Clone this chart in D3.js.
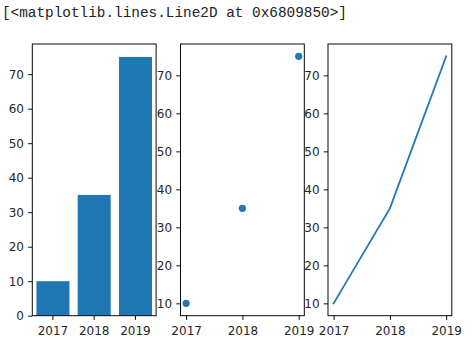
<!DOCTYPE html>
<html>
<head>
<meta charset="utf-8">
<script src="https://cdn.jsdelivr.net/npm/d3@7"></script>
<style>
  html, body { margin: 0; padding: 0; background: #fff; }
  svg { display: block; }
</style>
</head>
<body>
<svg id="chart" width="476" height="343"></svg>
<script>
// Data
const years = ["2017", "2018", "2019"];
const yearNums = [2017, 2018, 2019];
const values = [10, 35, 75];
const barTicks = [0, 10, 20, 30, 40, 50, 60, 70];
const otherTicks = [10, 20, 30, 40, 50, 60, 70];
const outputLine = "[<matplotlib.lines.Line2D at 0x6809850>]";

const svg = d3.select("#chart");
const blue = "#1f77b4";
const tickFont = "'DejaVu Sans', sans-serif";
const tickLen = 4.2, tickPad = 4.2, fontSize = 12;

// Text output line above the figure
svg.append("text")
  .attr("x", 2).attr("y", 16.5)
  .attr("font-family", "'Liberation Mono', monospace")
  .attr("font-size", 14)
  .attr("textLength", 345)
  .attr("lengthAdjust", "spacingAndGlyphs")
  .attr("fill", "#222")
  .text(outputLine);

const panelTop = 44, panelBottom = 315.7, panelW = 123.8;
const panelLefts = [32.3, 180.5, 328.0];
const h = panelBottom - panelTop;

function styleAxis(g) {
  g.select(".domain").remove();
  g.selectAll(".tick line").attr("stroke", "#000").attr("stroke-width", 0.96);
  g.selectAll(".tick text")
    .attr("font-family", tickFont)
    .attr("font-size", fontSize)
    .attr("fill", "#262626");
}
function styleBottom(g) {
  styleAxis(g);
  g.selectAll(".tick text").attr("dy", "0.92em");
}

function frame(g, w, hh) {
  g.append("rect")
    .attr("x", 0).attr("y", 0)
    .attr("width", w).attr("height", hh)
    .attr("fill", "none")
    .attr("stroke", "#000")
    .attr("stroke-width", 0.96);
}

// Panel 1: bars
{
  const g = svg.append("g").attr("transform", `translate(${panelLefts[0]},${panelTop})`);
  const x = d3.scaleBand().domain(years).range([0, panelW]).paddingInner(0.2).paddingOuter(0.1);
  const y = d3.scaleLinear().domain([0, d3.max(values) * 1.05]).range([h, 0]);
  g.selectAll("rect.bar").data(values).enter().append("rect")
    .attr("class", "bar")
    .attr("x", (d, i) => x(years[i]))
    .attr("width", x.bandwidth())
    .attr("y", d => y(d))
    .attr("height", d => y(0) - y(d))
    .attr("fill", blue);
  g.append("g").attr("transform", `translate(0,${h})`)
    .call(d3.axisBottom(x).tickSize(tickLen).tickPadding(tickPad)).call(styleBottom);
  g.append("g")
    .call(d3.axisLeft(y).tickValues(barTicks).tickFormat(d3.format("d")).tickSize(tickLen).tickPadding(tickPad))
    .call(styleAxis);
  frame(g, panelW, h);
}

// Shared scales for scatter and line panels
function xLin() {
  return d3.scaleLinear().domain([2017 - 0.1, 2019 + 0.1]).range([0, panelW]);
}
function yLin() {
  const lo = d3.min(values), hi = d3.max(values), m = (hi - lo) * 0.05;
  return d3.scaleLinear().domain([lo - m, hi + m]).range([h, 0]);
}
function axes(g, x, y) {
  g.append("g").attr("transform", `translate(0,${h})`)
    .call(d3.axisBottom(x).tickValues(yearNums).tickFormat(d3.format("d")).tickSize(tickLen).tickPadding(tickPad))
    .call(styleBottom);
  g.append("g")
    .call(d3.axisLeft(y).tickValues(otherTicks).tickFormat(d3.format("d")).tickSize(tickLen).tickPadding(tickPad))
    .call(styleAxis);
}

// Panel 2: scatter
{
  const g = svg.append("g").attr("transform", `translate(${panelLefts[1]},${panelTop})`);
  const x = xLin(), y = yLin();
  g.selectAll("circle").data(values).enter().append("circle")
    .attr("cx", (d, i) => x(yearNums[i]))
    .attr("cy", d => y(d))
    .attr("r", 3.6)
    .attr("fill", blue);
  axes(g, x, y);
  frame(g, panelW, h);
}

// Panel 3: line
{
  const g = svg.append("g").attr("transform", `translate(${panelLefts[2]},${panelTop})`);
  const x = xLin(), y = yLin();
  const line = d3.line().x((d, i) => x(yearNums[i])).y(d => y(d));
  g.append("path").datum(values)
    .attr("d", line)
    .attr("fill", "none")
    .attr("stroke", blue)
    .attr("stroke-width", 1.8)
    .attr("stroke-linecap", "square");
  axes(g, x, y);
  frame(g, panelW, h);
}
</script>
</body>
</html>
